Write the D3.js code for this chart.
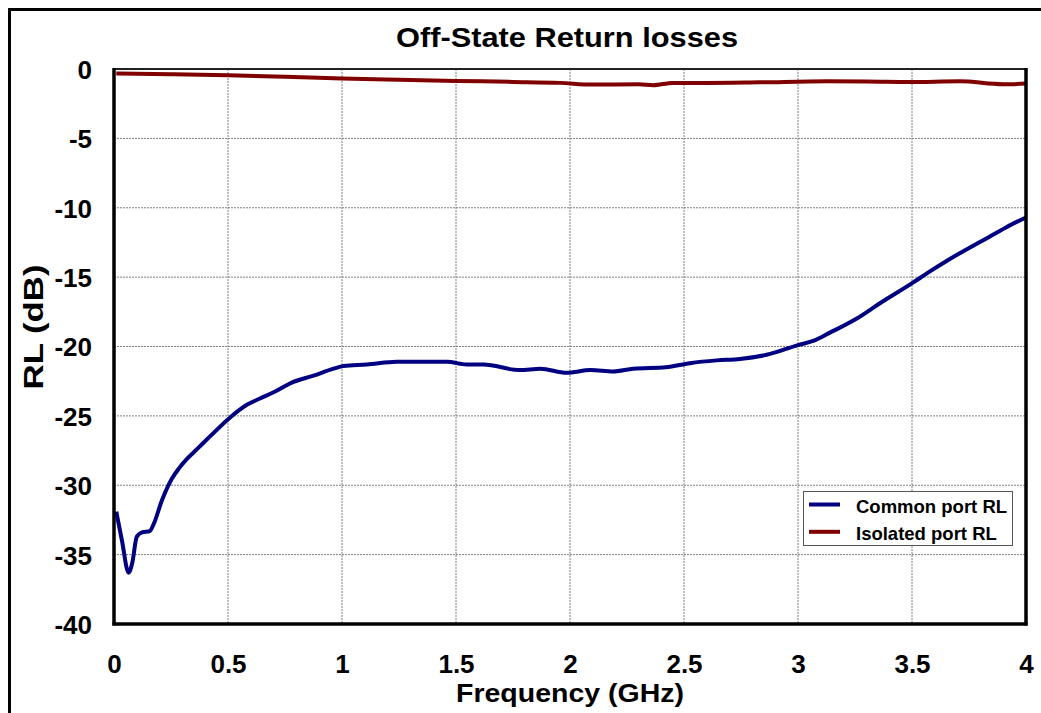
<!DOCTYPE html>
<html>
<head>
<meta charset="utf-8">
<script src="https://cdn.jsdelivr.net/npm/d3@7"></script>
<style>
  html, body { margin: 0; padding: 0; background: #fff; }
  svg { display: block; }
  text { font-family: "Liberation Sans", Arial, sans-serif; font-weight: bold; fill: #000; }
</style>
</head>
<body>
<svg id="chart" width="1041" height="713"></svg>
<script>
// ---- Data ----
const title = "Off-State Return losses";
const xLabel = "Frequency (GHz)";
const yLabel = "RL (dB)";
const xTicks = [0, 0.5, 1, 1.5, 2, 2.5, 3, 3.5, 4];
const yTicks = [0, -5, -10, -15, -20, -25, -30, -35, -40];
const seriesNames = ["Common port RL", "Isolated port RL"];
const seriesColors = ["#000080", "#800000"];

const commonFreq = [0.01, 0.035, 0.064, 0.08, 0.10, 0.123, 0.157, 0.174, 0.21, 0.255, 0.284, 0.32, 0.364, 0.42, 0.503, 0.583, 0.64, 0.70, 0.78, 0.875, 0.963, 1.007, 1.109, 1.24, 1.46, 1.547, 1.62, 1.78, 1.87, 1.985, 2.09, 2.19, 2.277, 2.42, 2.526, 2.643, 2.745, 2.862, 3.0, 3.066, 3.14, 3.256, 3.358, 3.504, 3.577, 3.65, 3.723, 3.8, 3.855, 3.914, 4.0];
const commonRL   = [-31.9, -34.0, -36.3, -35.6, -33.7, -33.4, -33.3, -32.8, -31.1, -29.5, -28.8, -28.1, -27.4, -26.5, -25.2, -24.2, -23.75, -23.3, -22.6, -22.1, -21.6, -21.4, -21.3, -21.1, -21.1, -21.3, -21.3, -21.7, -21.6, -21.9, -21.7, -21.8, -21.6, -21.5, -21.2, -21.0, -20.9, -20.6, -19.9, -19.6, -19.0, -18.0, -16.9, -15.4, -14.6, -13.85, -13.15, -12.45, -11.95, -11.4, -10.7];

const isoFreq = [0.01, 0.25, 0.5, 0.75, 1.0, 1.25, 1.5, 1.75, 1.956, 2.1, 2.3, 2.365, 2.45, 2.6, 2.83, 3.125, 3.3, 3.49, 3.71, 3.9, 4.0];
const isoRL   = [-0.33, -0.38, -0.45, -0.56, -0.69, -0.78, -0.86, -0.93, -1.0, -1.12, -1.1, -1.17, -1.0, -1.0, -0.96, -0.89, -0.9, -0.94, -0.89, -1.1, -1.05];

// ---- Layout ----
const svg = d3.select("#chart");
const L = 114, R = 1026, T = 69, B = 624;
const x = d3.scaleLinear().domain([0, 4]).range([L, R]);
const y = d3.scaleLinear().domain([-40, 0]).range([B, T]);
const fmt = d => d3.format("~g")(d).replace("\u2212", "-");

// outer frame (cut off at right and bottom)
svg.append("rect").attr("x", 9.5).attr("y", 9.5).attr("width", 1100).attr("height", 800)
  .attr("fill", "none").attr("stroke", "#000").attr("stroke-width", 3);

// gridlines
const grid = svg.append("g").attr("stroke", "#808080").attr("stroke-width", 1).attr("stroke-dasharray", "2,1");
xTicks.filter(t => t > 0 && t < 4).forEach(t => {
  grid.append("line").attr("x1", x(t)).attr("x2", x(t)).attr("y1", T).attr("y2", B);
});
yTicks.filter(t => t < 0 && t > -40).forEach(t => {
  grid.append("line").attr("x1", L).attr("x2", R).attr("y1", y(t)).attr("y2", y(t));
});

// axes (labels only, via d3 axes)
const xAxis = d3.axisBottom(x).tickValues(xTicks).tickSize(0).tickPadding(0).tickFormat(fmt);
const gx = svg.append("g").attr("transform", `translate(0,${B})`).call(xAxis);
gx.select(".domain").remove();
gx.selectAll("text").attr("font-size", 26).attr("dy", null).attr("y", 49)
  .style("font-family", "'Liberation Sans', Arial, sans-serif").style("font-weight", "bold").attr("fill", "#000");

const yAxis = d3.axisLeft(y).tickValues(yTicks).tickSize(0).tickPadding(0).tickFormat(fmt);
const gy = svg.append("g").attr("transform", `translate(${L},0)`).call(yAxis);
gy.select(".domain").remove();
gy.selectAll("text").attr("font-size", 26).attr("x", -22).attr("dy", "0.36em")
  .style("font-family", "'Liberation Sans', Arial, sans-serif").style("font-weight", "bold").attr("fill", "#000");

// series lines
const line = d3.line().x(d => x(d[0])).y(d => y(d[1])).curve(d3.curveMonotoneX);
const commonData = commonFreq.map((f, i) => [f, commonRL[i]]);
const isoData = isoFreq.map((f, i) => [f, isoRL[i]]);
svg.append("path").datum(isoData).attr("d", line).attr("fill", "none")
  .attr("stroke", seriesColors[1]).attr("stroke-width", 4);
svg.append("path").datum(commonData).attr("d", line).attr("fill", "none")
  .attr("stroke", seriesColors[0]).attr("stroke-width", 4);

// plot border
svg.append("line").attr("x1", L).attr("x2", R).attr("y1", T).attr("y2", T).attr("stroke", "#222").attr("stroke-width", 2);
svg.append("line").attr("x1", L).attr("x2", L).attr("y1", T - 1).attr("y2", B + 1.5).attr("stroke", "#000").attr("stroke-width", 3.5);
svg.append("line").attr("x1", R).attr("x2", R).attr("y1", T - 1).attr("y2", B + 1.5).attr("stroke", "#000").attr("stroke-width", 3.5);
svg.append("line").attr("x1", L - 1.5).attr("x2", R + 1.5).attr("y1", B).attr("y2", B).attr("stroke", "#000").attr("stroke-width", 3.5);

// title and axis titles
svg.append("text").attr("x", 567).attr("y", 47).attr("text-anchor", "middle").attr("font-size", 28)
  .attr("textLength", 342).attr("lengthAdjust", "spacingAndGlyphs").text(title);
svg.append("text").attr("x", 570).attr("y", 702).attr("text-anchor", "middle").attr("font-size", 25)
  .attr("textLength", 228).attr("lengthAdjust", "spacingAndGlyphs").text(xLabel);
svg.append("text").attr("transform", "translate(43,327) rotate(-90)").attr("text-anchor", "middle").attr("font-size", 27)
  .attr("textLength", 125).attr("lengthAdjust", "spacingAndGlyphs").text(yLabel);

// legend
const lg = svg.append("g");
lg.append("rect").attr("x", 803.5).attr("y", 491.5).attr("width", 209).attr("height", 54)
  .attr("fill", "#fff").attr("stroke", "#555").attr("stroke-width", 1);
seriesNames.forEach((name, i) => {
  const yy = 504.5 + i * 27.3;
  lg.append("line").attr("x1", 809).attr("x2", 840).attr("y1", yy).attr("y2", yy)
    .attr("stroke", seriesColors[i]).attr("stroke-width", 4);
  lg.append("text").attr("x", 856).attr("y", yy + 8.5).attr("font-size", 18.5).text(name);
});
</script>
</body>
</html>
